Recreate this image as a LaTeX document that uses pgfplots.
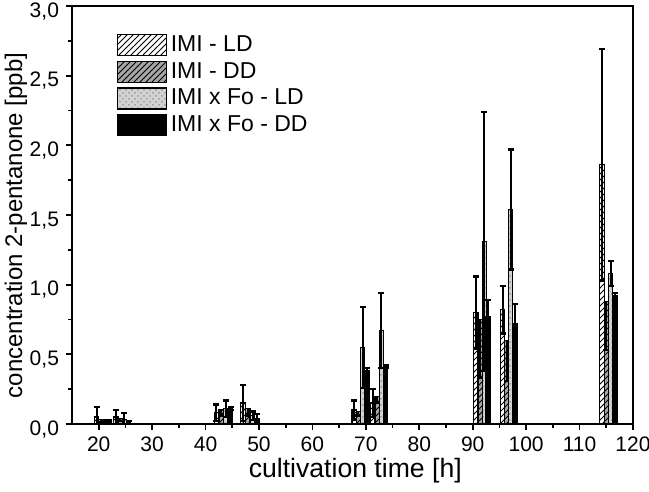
\documentclass[border=0pt]{standalone}
\usepackage{fontspec}
\setmainfont{Liberation Sans}
\usepackage{pgfplots}
\pgfplotsset{compat=1.18}
\usetikzlibrary{patterns}

\pgfplotsset{
  errs/.style={error bars/.cd, y dir=both, y explicit,
    error bar style={line width=1pt, black},
    error mark options={rotate=90, mark size=1.5pt, line width=1.2pt, black}},
  errsdown/.style={error bars/.cd, y dir=minus, y explicit,
    error bar style={line width=1pt, black},
    error mark options={rotate=90, mark size=1.5pt, line width=1.2pt, black}},
  boxleg/.style={legend image code/.code={\draw[##1] (0cm,-0.185cm) rectangle (0.86cm,0.185cm);}},
}

\begin{document}
\begin{tikzpicture}
\path[use as bounding box] (-36pt,-34pt) rectangle (288.5pt,212pt);
\begin{axis}[
    scale only axis,
    width=280.5pt, height=209pt,
    xmin=15, xmax=120, ymin=0, ymax=3,
    xtick={20,30,...,120}, minor xtick={25,35,...,115},
    ytick={0,0.5,...,3}, minor ytick={0.25,0.75,...,2.75},
    tick pos=left, tick align=outside,
    major tick length=3pt, minor tick length=2pt,
    every tick/.style={black, line width=0.9pt},
    axis line style={line width=0.9pt},
    /pgf/number format/.cd, use comma, fixed, fixed zerofill, precision=1, assume math mode=true,
    /pgfplots/.cd,
    xticklabel style={/pgf/number format/precision=0, /pgf/number format/fixed zerofill=false},
    yticklabel style={yshift=-2.6pt},
    tick label style={font=\fontsize{10.5}{12}\selectfont},
    xlabel={cultivation time [h]},
    ylabel={concentration 2-pentanone [ppb]},
    xlabel style={font=\fontsize{13.3}{15}\selectfont, at={(axis description cs:0.505,-0.112)}, anchor=center},
    ylabel style={font=\fontsize{12}{14}\selectfont, at={(axis description cs:-0.1,0.475)}, anchor=center},
    ybar, bar width=0.8, bar shift=0pt,
    legend style={at={(axis description cs:0.079,0.94)}, anchor=north west,
      draw=none, fill=none, inner sep=0pt, row sep=0pt,
      font=\fontsize{11.5}{13}\selectfont, cells={anchor=west}},
    legend cell align=left,
]
% IMI - LD
\addplot[boxleg, draw=black, line width=0.6pt, fill=white, postaction={pattern=north east lines}, errs] coordinates {
  (19.6,0.05) +- (0,0.07)
  (23.2,0.05) +- (0,0.05)
  (42.0,0.08) +- (0,0.06)
  (47.0,0.15) +- (0,0.13)
  (67.8,0.10) +- (0,0.07)
  (71.3,0.15) +- (0,0.10)
  (90.6,0.80) +- (0,0.26)
  (95.6,0.82) +- (0,0.17)
  (114.2,1.86) +- (0,0.83)
};
% IMI - DD
\addplot[boxleg, draw=black, line width=0.6pt, fill=gray!70, postaction={pattern=north east lines}, errsdown] coordinates {
  (20.4,0.03) +- (0,0.02)
  (24.0,0.04) +- (0,0.02)
  (42.9,0.10) +- (0,0.04)
  (47.9,0.11) +- (0,0.05)
  (68.6,0.09) +- (0,0.03)
  (72.1,0.20) +- (0,0.05)
  (91.4,0.75) +- (0,0.42)
  (96.4,0.60) +- (0,0.29)
  (115.0,0.88) +- (0,0.35)
};
% IMI x Fo - LD
\addplot[boxleg, draw=black, line width=0.6pt, fill=gray!35, postaction={pattern=crosshatch dots, pattern color=gray!80}, errs] coordinates {
  (21.2,0.02) +- (0,0.01)
  (24.8,0.03) +- (0,0.05)
  (43.8,0.11) +- (0,0.06)
  (48.8,0.06) +- (0,0.03)
  (69.4,0.55) +- (0,0.29)
  (72.9,0.67) +- (0,0.27)
  (92.2,1.31) +- (0,0.93)
  (97.1,1.54) +- (0,0.43)
  (115.8,1.08) +- (0,0.09)
};
% IMI x Fo - DD
\addplot[boxleg, draw=black, line width=0.6pt, fill=black, errs] coordinates {
  (22.0,0.02) +- (0,0.01)
  (25.6,0.01) +- (0,0.01)
  (44.7,0.11) +- (0,0.01)
  (49.7,0.04) +- (0,0.03)
  (70.2,0.38) +- (0,0.02)
  (73.7,0.41) +- (0,0.01)
  (92.9,0.77) +- (0,0.12)
  (98.0,0.72) +- (0,0.14)
  (116.6,0.92) +- (0,0.02)
};
\legend{IMI - LD, IMI - DD, IMI x Fo - LD, IMI x Fo - DD}
\end{axis}
\end{tikzpicture}
\end{document}
